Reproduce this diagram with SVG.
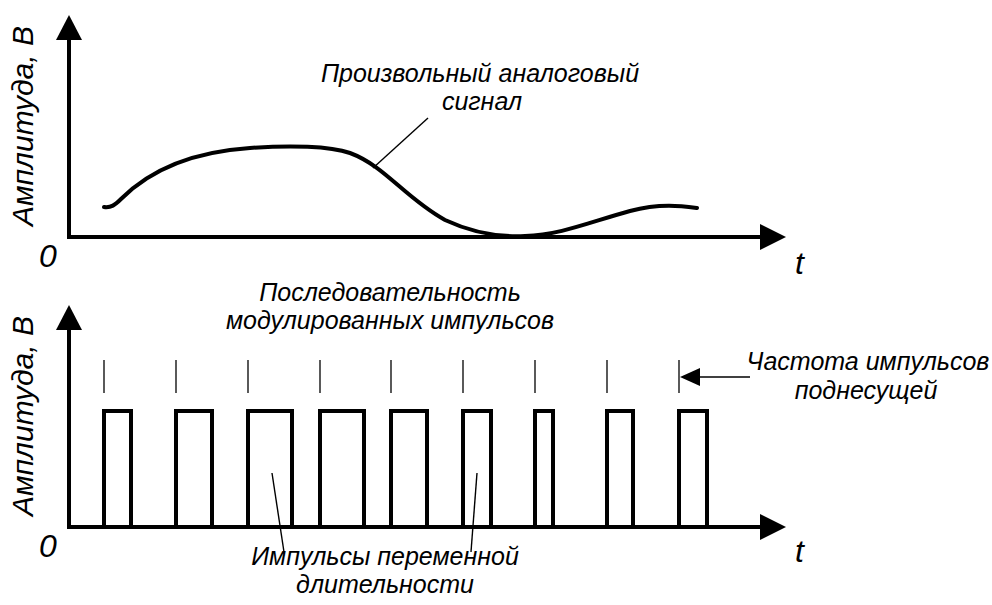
<svg xmlns="http://www.w3.org/2000/svg" width="992" height="605" viewBox="0 0 992 605">
<style>
.ax{stroke:#000;stroke-width:4;fill:none}
.sig{stroke:#000;stroke-width:4;fill:none;stroke-linecap:round}
.pulse{stroke:#000;stroke-width:4;fill:none;stroke-linejoin:miter}
.tick{stroke:#000;stroke-width:1.3;fill:none}
.lead{stroke:#000;stroke-width:1.4;fill:none}
.head{fill:#000}
.lbl{font-family:"Liberation Sans",Arial,sans-serif;font-style:italic;fill:#000}
.big{font-size:30px}
.num{font-size:32px}
.ann{font-size:25px}
</style>
<g id="top-plot">
<g id="top-axes">
<line class="ax" x1="69" y1="237" x2="69" y2="36"/>
<path class="head" d="M69,15 L82,40 L56,40 Z"/>
<line class="ax" x1="67" y1="237" x2="764" y2="237"/>
<path class="head" d="M786,237 L760,224 L760,250 Z"/>
</g>
<text class="lbl big" transform="translate(33,126) rotate(-90)" text-anchor="middle">Амплитуда, В</text>
<text class="lbl num" x="39" y="267">0</text>
<text class="lbl num" x="795" y="274">t</text>
<g id="analog-signal">
<path class="sig" d="M104,207 C111,208 115,205 121,199 C150,170 190,152 250,148 C290,145 330,146 350,153 C385,166 405,198 445,220 C475,234 505,237 525,236 C560,235 590,222 630,211 C660,203 682,206 697,208"/>
</g>
<line class="lead" x1="373" y1="168" x2="428" y2="118"/>
<text class="lbl ann" text-anchor="middle"><tspan x="480" y="82">Произвольный аналоговый</tspan><tspan x="482" y="110">сигнал</tspan></text>
</g>
<g id="bottom-plot">
<g id="bottom-axes">
<line class="ax" x1="69" y1="527" x2="69" y2="326"/>
<path class="head" d="M69,305 L82,330 L56,330 Z"/>
<line class="ax" x1="67" y1="527" x2="764" y2="527"/>
<path class="head" d="M786,527 L760,514 L760,540 Z"/>
</g>
<text class="lbl big" transform="translate(33,416) rotate(-90)" text-anchor="middle">Амплитуда, В</text>
<text class="lbl num" x="39" y="557">0</text>
<text class="lbl num" x="795" y="562">t</text>
<g id="ticks">
<line class="tick" x1="104" y1="360" x2="104" y2="393"/>
<line class="tick" x1="176" y1="360" x2="176" y2="393"/>
<line class="tick" x1="248" y1="360" x2="248" y2="393"/>
<line class="tick" x1="320" y1="360" x2="320" y2="393"/>
<line class="tick" x1="391" y1="360" x2="391" y2="393"/>
<line class="tick" x1="463" y1="360" x2="463" y2="393"/>
<line class="tick" x1="535" y1="360" x2="535" y2="393"/>
<line class="tick" x1="607" y1="360" x2="607" y2="393"/>
<line class="tick" x1="679" y1="360" x2="679" y2="393"/>
</g>
<g id="pulses">
<path class="pulse" d="M104,527 V411 H131 V527"/>
<path class="pulse" d="M176,527 V411 H212 V527"/>
<path class="pulse" d="M248,527 V411 H292 V527"/>
<path class="pulse" d="M320,527 V411 H364 V527"/>
<path class="pulse" d="M391,527 V411 H427 V527"/>
<path class="pulse" d="M463,527 V411 H491 V527"/>
<path class="pulse" d="M535,527 V411 H553 V527"/>
<path class="pulse" d="M607,527 V411 H633 V527"/>
<path class="pulse" d="M679,527 V411 H707 V527"/>
</g>
<g id="connectors">
<line class="lead" x1="750" y1="377" x2="698" y2="377"/>
<path class="head" d="M680,377 L700,368 L700,386 Z"/>
<line class="lead" x1="272" y1="473" x2="284" y2="552"/>
<line class="lead" x1="477" y1="473" x2="471" y2="552"/>
</g>
<text class="lbl ann" text-anchor="middle"><tspan x="390" y="301">Последовательность</tspan><tspan x="390" y="329">модулированных импульсов</tspan></text>
<text class="lbl ann" text-anchor="middle"><tspan x="868" y="370">Частота импульсов</tspan><tspan x="866" y="399">поднесущей</tspan></text>
<text class="lbl ann" text-anchor="middle"><tspan x="385" y="565">Импульсы переменной</tspan><tspan x="385" y="593">длительности</tspan></text>
</g>
</svg>
